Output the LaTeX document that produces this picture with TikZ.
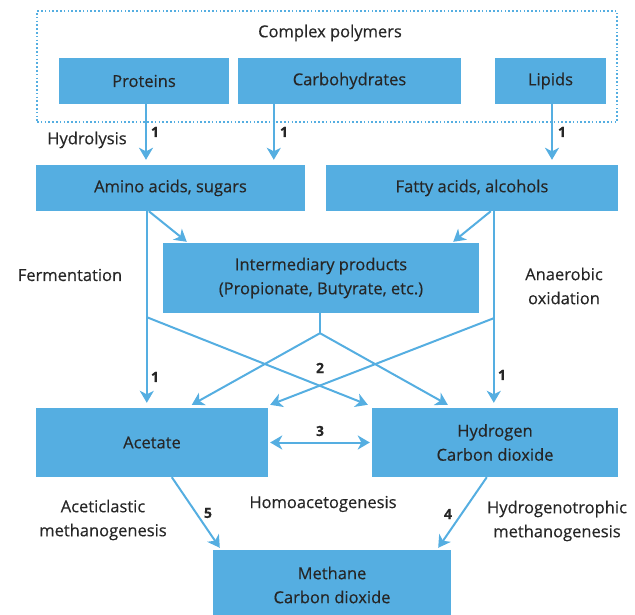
\documentclass[tikz,border=0pt]{standalone}
\usepackage{fontspec}
\setmainfont[FakeBold=0.4]{Open Sans}
\usetikzlibrary{arrows.meta,calc}
\definecolor{boxblue}{HTML}{55AEE1}
\definecolor{ink}{HTML}{262626}
\begin{document}
\begin{tikzpicture}[x=1pt,y=-1pt,
  txt/.style={text=ink, inner sep=0pt, align=center, font=\fontsize{16.5}{24}\selectfont},
  box/.style={txt, fill=boxblue, draw=none},
  lbl/.style={txt},
  num/.style={text=ink, inner sep=0pt, font=\fontsize{14}{16}\selectfont\bfseries},
  >={Stealth[length=12pt,width=14pt,inset=3.5pt]},
  link/.style={draw=boxblue, line width=2pt},
  flow/.style={link, ->},
  gap/.style={shorten >=5pt}]
\useasboundingbox (0,0) rectangle (635,615);

% dotted frame around the polymer group
\node[draw=boxblue, line width=1.6pt, dash pattern=on 1.6pt off 2.2pt,
      minimum width=580pt, minimum height=111pt, inner sep=0pt] (frame) at (327,66.5) {};
\node[lbl] (cpoly) at (330,33) {Complex polymers};

% boxes
\node[box, minimum width=170pt, minimum height=46pt] (prot) at (144,81) {Proteins};
\node[box, minimum width=223pt, minimum height=46pt] (carb) at (349.5,81) {Carbohydrates};
\node[box, minimum width=111pt, minimum height=46pt] (lip)  at (550.5,81) {Lipids};
\node[box, minimum width=269pt, minimum height=46pt] (amino) at (170.5,188) {Amino acids, sugars};
\node[box, minimum width=292pt, minimum height=46pt] (fatty) at (472,188) {Fatty acids, alcohols};
\node[box, minimum width=316pt, minimum height=70pt] (inter) at (321,278) {Intermediary products\\(Propionate, Butyrate, etc.)};
\node[box, minimum width=232pt, minimum height=69pt] (acet) at (152,442.5) {Acetate};
\node[box, minimum width=246pt, minimum height=69pt] (hyd)  at (495,442.5) {Hydrogen\\Carbon dioxide};
\node[box, minimum width=238pt, minimum height=70pt] (meth) at (332,585) {Methane\\Carbon dioxide};

% hydrolysis
\coordinate (pb) at ($(prot.south)+(2,0)$);
\coordinate (cb) at ($(carb.south west)+(36,0)$);
\coordinate (lb) at ($(lip.south)+(1.5,0)$);
\draw[flow,gap] (pb) -- (pb |- amino.north);
\draw[flow,gap] (cb) -- (cb |- amino.north);
\draw[flow,gap] (lb) -- (lb |- fatty.north);

% fermentation and anaerobic oxidation
\coordinate (aL) at ($(amino.south west)+(111,0)$);
\coordinate (aB) at ($(aL)+(0,106)$);
\coordinate (fR) at ($(fatty.south west)+(168,0)$);
\coordinate (fB) at ($(fR)+(0,107)$);
\draw[flow,gap] (aL) -- (aL |- acet.north);
\draw[flow,gap] (fR) -- (fR |- hyd.north);
\draw[flow] ($(aL)+(2,0)$) -- ($(inter.north west)+(24,-1)$);
\draw[flow] ($(fR)+(-3,0)$) -- ($(inter.north east)+(-26,-1)$);
\draw[flow] (aB) -- ($(hyd.north west)+(-4,-3)$);
\draw[flow] (fB) -- ($(acet.north east)+(2,-3)$);

% intermediary products split
\coordinate (iJ) at ($(inter.south)+(-1,20)$);
\draw[link] (inter.south -| iJ) -- (iJ);
\draw[flow] (iJ) -- ($(acet.north west)+(156,-3)$);
\draw[flow] (iJ) -- ($(hyd.north west)+(76,-3)$);

% homoacetogenesis and methanogenesis
\draw[flow,<->] ($(acet.east)+(2,0)$) -- ($(hyd.west)+(-2,0)$);
\draw[flow] ($(acet.south west)+(136,0)$) -- ($(meth.north west)+(7,-2)$);
\draw[flow] ($(hyd.south west)+(115,0)$) -- ($(meth.north east)+(-13,-2)$);

% step numbers
\node[num] (n1a) at (155,132) {1};
\node[num] (n1b) at (284,132) {1};
\node[num] (n1c) at (562,132) {1};
\node[num] (n1d) at (155,377) {1};
\node[num] (n1e) at (502,375) {1};
\node[num] (n2)  at (320,368) {2};
\node[num] (n3)  at (320,431) {3};
\node[num] (n5)  at (208,513) {5};
\node[num] (n4)  at (448,514) {4};

% process names
\node[lbl] (hydro) at (87,140) {Hydrolysis};
\node[lbl] (ferm)  at (70,275) {Fermentation};
\node[lbl] (anox)  at (564,286) {Anaerobic\\oxidation};
\node[lbl] (acm)   at (103,520) {Aceticlastic\\methanogenesis};
\node[lbl] (homo)  at (323,504) {Homoacetogenesis};
\node[lbl] (hym)   at (557,521) {Hydrogenotrophic\\methanogenesis};
\end{tikzpicture}
\end{document}
